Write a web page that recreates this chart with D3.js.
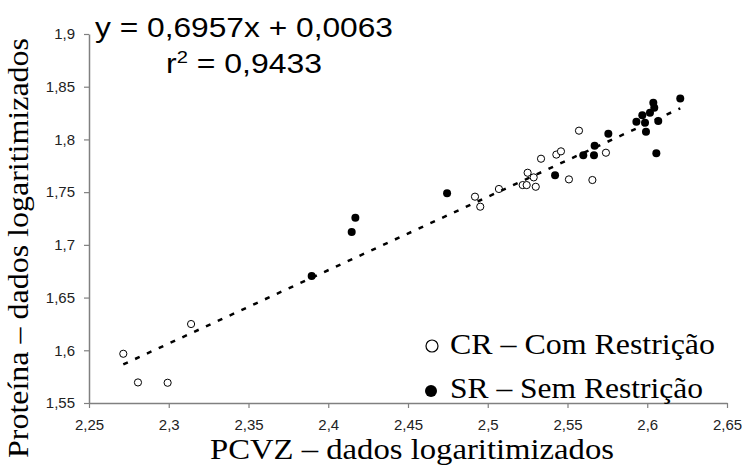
<!DOCTYPE html>
<html><head><meta charset="utf-8">
<script src="https://cdn.jsdelivr.net/npm/d3@7"></script>
<style>
html,body{margin:0;padding:0;background:#fff;}
svg{display:block;}
</style></head>
<body>
<svg id="chart" width="744" height="466"></svg>
<script>
// CR – Com Restrição (open circles)
const crX = [2.2715, 2.2807, 2.2993, 2.3140, 2.4920, 2.4953, 2.5070, 2.5219, 2.5244, 2.5250, 2.5288, 2.5301, 2.5334, 2.5430, 2.5459, 2.5509, 2.5572, 2.5656, 2.5741];
const crY = [1.5967, 1.5695, 1.5692, 1.6249, 1.7457, 1.7362, 1.7530, 1.7567, 1.7567, 1.7684, 1.7640, 1.7551, 1.7817, 1.7856, 1.7887, 1.7621, 1.8083, 1.7615, 1.7874];
// SR – Sem Restrição (filled circles)
const srX = [2.3896, 2.4147, 2.4170, 2.4745, 2.5422, 2.5599, 2.5666, 2.5670, 2.5756, 2.5932, 2.5969, 2.5986, 2.5992, 2.6017, 2.6038, 2.6044, 2.6069, 2.6057, 2.6207];
const srY = [1.6704, 1.7121, 1.7257, 1.7490, 1.7660, 1.7849, 1.7849, 1.7940, 1.8054, 1.8168, 1.8229, 1.8158, 1.8073, 1.8254, 1.8349, 1.8301, 1.8175, 1.7869, 1.8388];
// regression
const slope = 0.6957, intercept = 0.0063;
const eqLine1 = "y = 0,6957x + 0,0063";
const r2Value = "0,9433";
// ticks
const xTicks = [2.25, 2.3, 2.35, 2.4, 2.45, 2.5, 2.55, 2.6, 2.65];
const xTickLabels = ["2,25", "2,3", "2,35", "2,4", "2,45", "2,5", "2,55", "2,6", "2,65"];
const yTicks = [1.55, 1.6, 1.65, 1.7, 1.75, 1.8, 1.85, 1.9];
const yTickLabels = ["1,55", "1,6", "1,65", "1,7", "1,75", "1,8", "1,85", "1,9"];
const legendLabels = ["CR – Com Restrição", "SR – Sem Restrição"];
const xTitle = "PCVZ – dados logaritimizados";
const yTitle = "Proteína – dados logaritimizados";

const svg = d3.select("#chart");
const x = d3.scaleLinear().domain([2.25, 2.65]).range([89, 727]);
const y = d3.scaleLinear().domain([1.55, 1.9]).range([403, 34]);

const sans = "'Liberation Sans', Arial, sans-serif";
const serif = "'Liberation Serif', 'Times New Roman', serif";
const axisColor = "#808080";
const xAxis = d3.axisBottom(x).tickValues(xTicks).tickSize(5).tickSizeOuter(0).tickPadding(11)
  .tickFormat((d, i) => xTickLabels[i]);
const yAxis = d3.axisLeft(y).tickValues(yTicks).tickSize(5).tickSizeOuter(0).tickPadding(9)
  .tickFormat((d, i) => yTickLabels[i]);

const gx = svg.append("g").attr("transform", `translate(0,${y(1.55)})`).call(xAxis);
const gy = svg.append("g").attr("transform", `translate(${x(2.25)},0)`).call(yAxis);
[gx, gy].forEach(g => {
  g.select(".domain").attr("stroke", axisColor).attr("stroke-width", 1.5);
  g.selectAll(".tick line").attr("stroke", axisColor).attr("stroke-width", 1.2);
  g.selectAll(".tick text").attr("fill", "#222").style("font-family", sans).style("font-size", "15px");
});

// points
const cr = crX.map((v, i) => ({x: v, y: crY[i]}));
const sr = srX.map((v, i) => ({x: v, y: srY[i]}));
svg.append("g").selectAll("circle").data(cr).join("circle")
  .attr("cx", d => x(d.x)).attr("cy", d => y(d.y)).attr("r", 3.6)
  .attr("fill", "#fff").attr("stroke", "#000").attr("stroke-width", 1);
svg.append("g").selectAll("circle").data(sr).join("circle")
  .attr("cx", d => x(d.x)).attr("cy", d => y(d.y)).attr("r", 4)
  .attr("fill", "#000");

// trend line
const allX = crX.concat(srX);
const xMin = d3.min(allX), xMax = d3.max(allX);
svg.append("line")
  .attr("x1", x(xMin)).attr("y1", y(slope * xMin + intercept))
  .attr("x2", x(xMax)).attr("y2", y(slope * xMax + intercept))
  .attr("stroke", "#000").attr("stroke-width", 2.5).attr("stroke-dasharray", "5,8");

// equation
svg.append("text").attr("x", 244).attr("y", 37).attr("text-anchor", "middle")
  .style("font-family", sans).style("font-size", "27px").attr("fill", "#000")
  .attr("textLength", 298).attr("lengthAdjust", "spacingAndGlyphs").text(eqLine1);
const t2 = svg.append("text").attr("x", 244).attr("y", 73).attr("text-anchor", "middle")
  .style("font-family", sans).style("font-size", "27px").attr("fill", "#000")
  .attr("textLength", 156).attr("lengthAdjust", "spacingAndGlyphs");
t2.append("tspan").text("r");
t2.append("tspan").attr("dy", -10).style("font-size", "17px").text("2");
t2.append("tspan").attr("dy", 10).text(" = " + r2Value);

// legend
svg.append("circle").attr("cx", 432).attr("cy", 346).attr("r", 6).attr("fill", "#fff").attr("stroke", "#000").attr("stroke-width", 1.2);
svg.append("circle").attr("cx", 431).attr("cy", 391).attr("r", 6).attr("fill", "#000");
svg.append("text").attr("x", 450).attr("y", 354).style("font-family", serif).style("font-size", "29px")
  .attr("textLength", 265).attr("lengthAdjust", "spacingAndGlyphs").text(legendLabels[0]);
svg.append("text").attr("x", 450).attr("y", 398).style("font-family", serif).style("font-size", "29px")
  .attr("textLength", 253).attr("lengthAdjust", "spacingAndGlyphs").text(legendLabels[1]);

// axis titles
svg.append("text").attr("x", 412).attr("y", 459).attr("text-anchor", "middle")
  .style("font-family", serif).style("font-size", "30px")
  .attr("textLength", 404).attr("lengthAdjust", "spacingAndGlyphs").text(xTitle);
svg.append("text").attr("transform", "translate(28,248) rotate(-90)").attr("text-anchor", "middle")
  .style("font-family", serif).style("font-size", "30px")
  .attr("textLength", 420).attr("lengthAdjust", "spacingAndGlyphs").text(yTitle);
</script>
</body></html>
